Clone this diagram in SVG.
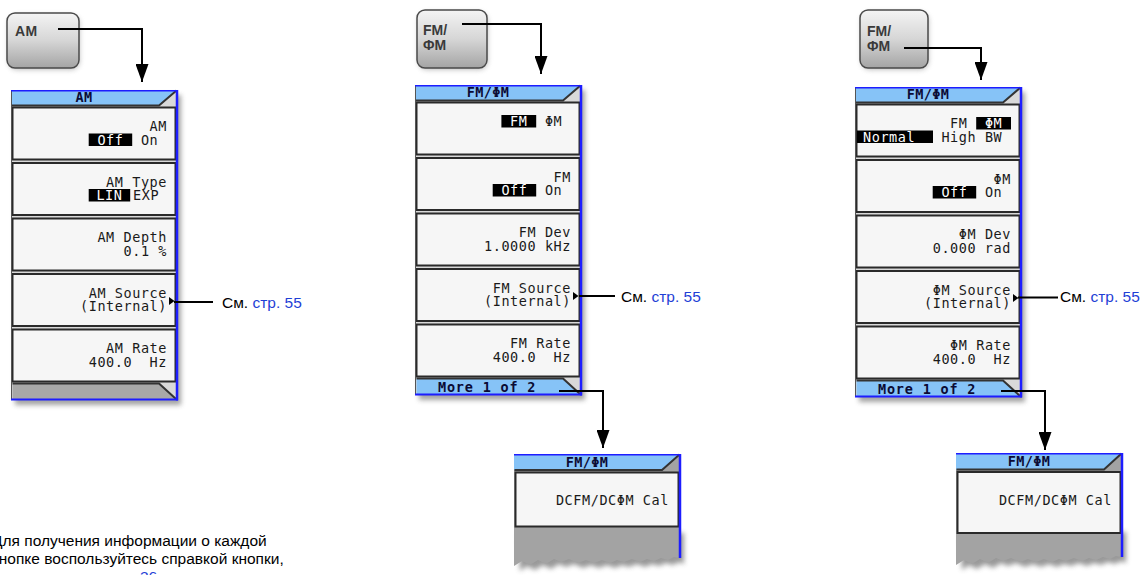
<svg xmlns="http://www.w3.org/2000/svg" width="1143" height="575" viewBox="0 0 1143 575">
<style>
.k{font-family:"DejaVu Sans Mono",monospace;font-size:13.5px;letter-spacing:0.57px;fill:#1a1a1a}
.kw{fill:#fff}
.hd{font-family:"DejaVu Sans Mono",monospace;font-weight:bold;font-size:13.5px;letter-spacing:0.4px;fill:#0b0b35;text-anchor:middle}
.ft{font-family:"DejaVu Sans Mono",monospace;font-weight:bold;font-size:13.5px;letter-spacing:0.8px;fill:#0b0b35}
.btn{fill:#f6f6f6;stroke:#2a2a2a;stroke-width:2}
.hl{fill:#000}
.bl{stroke:#1d1dff}
.conn{fill:none;stroke:#000;stroke-width:2}
.lbl{font-family:"Liberation Sans",Arial,sans-serif;font-size:15.5px;fill:#000}
.lnk{fill:#1f3fd6}
.key{fill:url(#keyg);stroke:#4a4a4a;stroke-width:1.5}
.kt{font-family:"Liberation Sans",Arial,sans-serif;font-weight:bold;font-size:14px;fill:#3a3a3a}
</style>
<defs>
<linearGradient id="keyg" x1="0" y1="0" x2="0" y2="1">
<stop offset="0" stop-color="#f4f4f4"/><stop offset="0.5" stop-color="#d6d6d6"/><stop offset="1" stop-color="#a4a4a4"/>
</linearGradient>
<filter id="blur" x="-20%" y="-20%" width="140%" height="140%"><feGaussianBlur stdDeviation="2.5"/></filter>
<marker id="ah" markerUnits="userSpaceOnUse" viewBox="0 0 18 13" markerWidth="18" markerHeight="13" refX="18" refY="6.5" orient="auto"><path d="M0,0 L18,6.5 L0,13 z" fill="#000"/></marker>
<g id="frame">
<rect x="4" y="5" width="166" height="310" fill="#666" opacity="0.6" filter="url(#blur)"/>
<rect x="0" y="0" width="166" height="310" fill="#d9d9d9"/>
<polygon points="0,0 166,0 148,15.5 0,15.5" fill="#86c3f7"/>
<polyline points="0.5,15.5 148,15.5 165.5,0.5" fill="none" stroke="#333" stroke-width="2"/>
<rect class="btn" x="1.5" y="17.5" width="163" height="52"/>
<rect class="btn" x="1.5" y="73" width="163" height="52"/>
<rect class="btn" x="1.5" y="128.5" width="163" height="52"/>
<rect class="btn" x="1.5" y="184" width="163" height="52"/>
<rect class="btn" x="1.5" y="239.5" width="163" height="52"/>
<line x1="0.5" y1="0" x2="0.5" y2="310" stroke="#555" stroke-width="1"/>
</g>
<g id="ftGray">
<polygon points="1.5,293.5 148,293.5 165,309 1.5,309" fill="#a8a8a8"/>
<polyline points="1.5,293.5 148,293.5 165,309" fill="none" stroke="#333" stroke-width="2"/>
</g>
<g id="ftMore">
<polygon points="1.5,293.5 148,293.5 165,309 1.5,309" fill="#86c3f7"/>
<polyline points="1.5,293.5 148,293.5 165,309" fill="none" stroke="#333" stroke-width="2"/>
</g>
<g id="edge">
<line x1="0" y1="0.75" x2="167" y2="0.75" class="bl" stroke-width="1.5"/>
<line x1="166" y1="0" x2="166" y2="310.5" class="bl" stroke-width="2.5"/>
<line x1="0" y1="309.5" x2="167" y2="309.5" class="bl" stroke-width="2"/>
</g>
<g id="tri"><polygon points="158,0 163.5,4 158,8" fill="#000"/></g>
<g id="torn">
<path d="M4,79 H170 V110 L165,108 L159,111 L152,109 L145,112 L138,110 L131,113 L123,110 L115,113 L108,111 L101,114 L93,111 L85,114 L77,111 L69,114 L60,110 L52,113 L45,110 L37,115 L29,111 L21,116 L13,112 L6,117 Z" fill="#555" opacity="0.6" filter="url(#blur)"/>
</g>
</defs>

<rect width="1143" height="575" fill="#fff"/>

<!-- hardware keys -->
<g id="key-am">
<rect x="8" y="15" width="72" height="55" rx="9" fill="#888" opacity="0.5" filter="url(#blur)"/>
<rect class="key" x="7" y="13" width="72" height="55" rx="8"/>
<text class="kt" x="15" y="36" letter-spacing="0.5">AM</text>
</g>
<g id="key-fm1">
<rect x="418" y="12" width="70" height="58" rx="9" fill="#888" opacity="0.5" filter="url(#blur)"/>
<rect class="key" x="417" y="10" width="70" height="58" rx="8"/>
<text class="kt" x="423" y="35">FM/</text>
<text class="kt" x="423" y="50">ΦM</text>
</g>
<g id="key-fm2">
<rect x="861" y="12" width="68" height="58" rx="9" fill="#888" opacity="0.5" filter="url(#blur)"/>
<rect class="key" x="860" y="10" width="68" height="58" rx="8"/>
<text class="kt" x="867" y="36">FM/</text>
<text class="kt" x="867" y="51">ΦM</text>
</g>

<!-- AM menu -->
<g id="am-menu" transform="translate(11,90)">
<use href="#frame"/><use href="#ftGray"/><use href="#edge"/>
<text class="hd" x="73" y="12">AM</text>
<text class="k" x="138.6" y="41">AM</text>
<rect class="hl" x="77.7" y="43.5" width="43.5" height="12.5"/>
<text class="k kw" x="86.4" y="54.5">Off</text><text class="k" x="129.9" y="54.5">On</text>
<text class="k" x="95.1" y="96.5">AM Type</text>
<rect class="hl" x="77.7" y="99" width="41.5" height="12.5"/>
<text class="k kw" x="85.4" y="110">LIN</text><text class="k" x="122" y="110">EXP</text>
<text class="k" x="86.4" y="152">AM Depth</text>
<text class="k" x="112.5" y="165.5">0.1 %</text>
<text class="k" x="77.7" y="207.5">AM Source</text>
<text class="k" x="69" y="221">(Internal)</text>
<use href="#tri" y="207"/>
<text class="k" x="95.1" y="263">AM Rate</text>
<text class="k" x="77.7" y="276.5">400.0</text><text class="k" x="138.6" y="276.5">Hz</text>
</g>

<!-- FM menu -->
<g id="fm-menu" transform="translate(415,85)">
<use href="#frame"/><use href="#ftMore"/><use href="#edge"/>
<text class="hd" x="73" y="12">FM/ΦM</text>
<rect class="hl" x="86.4" y="30" width="34.8" height="12.5"/>
<text class="k kw" x="95.1" y="41">FM</text><text class="k" x="129.9" y="41">ΦM</text>
<text class="k" x="138.6" y="96.5">FM</text>
<rect class="hl" x="77.7" y="99" width="43.5" height="12.5"/>
<text class="k kw" x="86.4" y="110">Off</text><text class="k" x="129.9" y="110">On</text>
<text class="k" x="103.8" y="152">FM Dev</text>
<text class="k" x="69" y="165.5">1.0000 kHz</text>
<text class="k" x="77.7" y="207.5">FM Source</text>
<text class="k" x="69" y="221">(Internal)</text>
<use href="#tri" y="207"/>
<text class="k" x="95.1" y="263">FM Rate</text>
<text class="k" x="77.7" y="276.5">400.0</text><text class="k" x="138.6" y="276.5">Hz</text>
<text class="ft" x="23" y="306.5">More 1 of 2</text>
</g>

<!-- PhiM menu -->
<g id="pm-menu" transform="translate(855,87)">
<use href="#frame"/><use href="#ftMore"/><use href="#edge"/>
<text class="hd" x="73" y="12">FM/ΦM</text>
<text class="k" x="95.1" y="41">FM</text>
<rect class="hl" x="121.2" y="30" width="34.8" height="12.5"/>
<text class="k kw" x="129.9" y="41">ΦM</text>
<rect class="hl" x="2" y="43.5" width="76" height="12.5"/>
<text class="k kw" x="8" y="54.5">Normal</text><text class="k" x="86.4" y="54.5">High BW</text>
<text class="k" x="138.6" y="96.5">ΦM</text>
<rect class="hl" x="77.7" y="99" width="43.5" height="12.5"/>
<text class="k kw" x="86.4" y="110">Off</text><text class="k" x="129.9" y="110">On</text>
<text class="k" x="103.8" y="152">ΦM Dev</text>
<text class="k" x="77.7" y="165.5">0.000 rad</text>
<text class="k" x="77.7" y="207.5">ΦM Source</text>
<text class="k" x="69" y="221">(Internal)</text>
<use href="#tri" y="207"/>
<text class="k" x="95.1" y="263">ΦM Rate</text>
<text class="k" x="77.7" y="276.5">400.0</text><text class="k" x="138.6" y="276.5">Hz</text>
<text class="ft" x="23" y="306.5">More 1 of 2</text>
</g>

<!-- lower FM menu -->
<g id="fm-menu2" transform="translate(514,454)">
<use href="#torn"/>
<path d="M0,0 H166 V104 L160,103 L154,106 L147,104 L140,107 L133,105 L126,108 L118,105 L110,108 L103,106 L96,109 L88,106 L80,109 L72,106 L64,109 L55,105 L47,108 L40,105 L32,110 L24,106 L16,111 L8,107 L0,112 Z" fill="#a3a3a3"/>
<polygon points="0,0 166,0 148,16 0,16" fill="#86c3f7"/>
<polyline points="0.5,16 148,16 165.5,0.5" fill="none" stroke="#333" stroke-width="2"/>
<rect class="btn" x="1.5" y="18.5" width="163" height="54"/>
<line x1="0" y1="0.75" x2="167" y2="0.75" class="bl" stroke-width="1.5"/>
<line x1="166" y1="0" x2="166" y2="104" class="bl" stroke-width="2.5"/>
<text class="hd" x="73" y="12.5">FM/ΦM</text>
<text class="k" x="41.9" y="51">DCFM/DCΦM Cal</text>
</g>

<!-- lower PhiM menu -->
<g id="pm-menu2" transform="translate(956,453)">
<use href="#torn"/>
<path d="M0,0 H166 V104 L160,103 L154,106 L147,104 L140,107 L133,105 L126,108 L118,105 L110,108 L103,106 L96,109 L88,106 L80,109 L72,106 L64,109 L55,105 L47,108 L40,105 L32,110 L24,106 L16,111 L8,107 L0,112 Z" fill="#a3a3a3"/>
<polygon points="0,0 166,0 148,16.5 0,16.5" fill="#86c3f7"/>
<polyline points="0.5,16.5 148,16.5 165.5,0.5" fill="none" stroke="#333" stroke-width="2"/>
<rect class="btn" x="1.5" y="19" width="163" height="61"/>
<line x1="0" y1="0.75" x2="167" y2="0.75" class="bl" stroke-width="1.5"/>
<line x1="166" y1="0" x2="166" y2="104" class="bl" stroke-width="2.5"/>
<text class="hd" x="73" y="12.5">FM/ΦM</text>
<text class="k" x="42.9" y="52">DCFM/DCΦM Cal</text>
</g>

<!-- connectors -->
<g id="connectors">
<path class="conn" d="M58,29 H142 V82" marker-end="url(#ah)"/>
<path class="conn" d="M462,24 H541 V74" marker-end="url(#ah)"/>
<path class="conn" d="M904,48 H981 V80" marker-end="url(#ah)"/>
<path class="conn" d="M559,391 H603 V448" marker-end="url(#ah)"/>
<path class="conn" d="M1001,391 H1045 V450" marker-end="url(#ah)"/>
<path class="conn" d="M174,302 H213"/>
<path class="conn" d="M579,296 H615"/>
<path class="conn" d="M1018,297.5 H1058"/>
</g>

<!-- labels -->
<g id="labels">
<text class="lbl" x="222" y="307.5">См. <tspan class="lnk">стр. 55</tspan></text>
<text class="lbl" x="621" y="301.5">См. <tspan class="lnk">стр. 55</tspan></text>
<text class="lbl" x="1060" y="301.5">См. <tspan class="lnk">стр. 55</tspan></text>
<text class="lbl" x="-8" y="546">Для получения информации о каждой</text>
<text class="lbl" x="-8" y="564">кнопке воспользуйтесь справкой кнопки,</text>
<text class="lbl lnk" x="140" y="582">36</text>
</g>
</svg>
